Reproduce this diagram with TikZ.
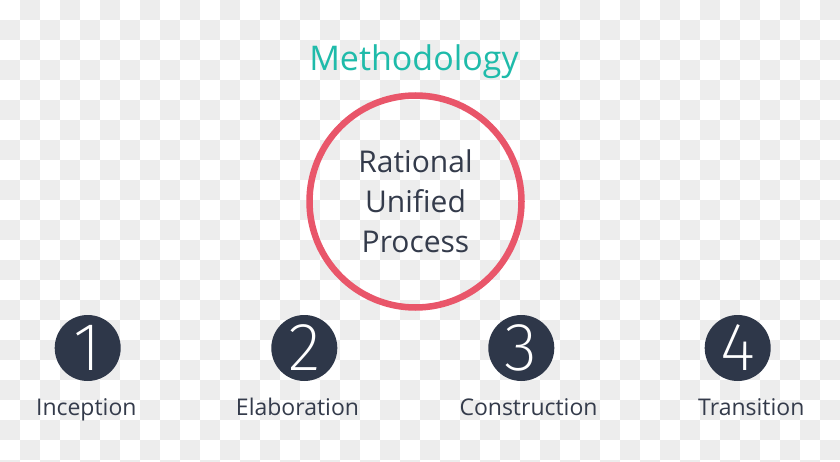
\documentclass[tikz,border=0pt]{standalone}
\usepackage{fontspec}
\setmainfont{Open Sans}
\newfontfamily\thinfont{Fira Sans}[UprightFont={* ExtraLight}]
\definecolor{teal1}{HTML}{1FBBAA}
\definecolor{rupred}{HTML}{E9566A}
\definecolor{navy}{HTML}{2E3749}
\definecolor{txt}{HTML}{343B4B}
\definecolor{checker}{HTML}{EDEDED}
\tikzset{
  phase/.style={circle, fill=navy, minimum size=66pt, inner sep=0pt, text=white,
    font=\thinfont\fontsize{68}{68}\selectfont},
  phaselabel/.style={anchor=base, text=txt, inner sep=0pt, font=\fontsize{23}{26}\selectfont},
}
\begin{document}
\begin{tikzpicture}[x=1pt,y=-1pt]
\useasboundingbox (0,0) rectangle (840,462);
\fill[white] (0,0) rectangle (840,462);
\begin{scope}
\clip (0,0) rectangle (840,462);
\foreach \j in {0,...,23}{
  \pgfmathsetmacro\off{mod(\j,2)==0 ? 20 : 0}
  \foreach \i in {0,...,21}{
    \fill[checker] (\off+40*\i, 20*\j) rectangle +(20,20);
  }
}
\end{scope}
\node[anchor=base, text=teal1, inner sep=0pt, font=\fontsize{34}{34}\selectfont] (title) at (414,70.7) {Methodology};
\node[circle, draw=rupred, line width=6.5pt, minimum size=212pt, inner sep=0pt, text=txt,
  align=center, font=\fontsize{30}{40}\selectfont] (rup) at (415.5,201.5) {Rational\\Unified\\Process};
\node[phase] (p1) at (87.7,348) {1};
\node[phase] (p2) at (304.3,348) {2};
\node[phase] (p3) at (521.3,348) {3};
\node[phase] (p4) at (737.7,348) {4};
\node[phaselabel] (l1) at (86.3,415) {Inception};
\node[phaselabel] (l2) at (297.5,415) {Elaboration};
\node[phaselabel] (l3) at (528.5,415) {Construction};
\node[phaselabel] (l4) at (751.3,415) {Transition};
\end{tikzpicture}
\end{document}
